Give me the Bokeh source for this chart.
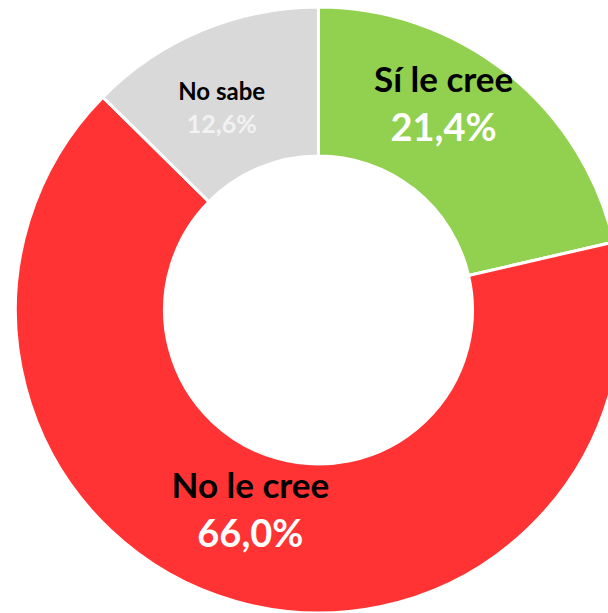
import math
from bokeh.plotting import figure
from bokeh.models import Range1d, ColumnDataSource
from bokeh.core.properties import value
from bokeh.embed import file_html
from bokeh.resources import INLINE

# data
categories = ["Sí le cree", "No le cree", "No sabe"]
shares = [21.4, 66.0, 12.6]
value_labels = ["21,4%", "66,0%", "12,6%"]
colors = ["#92D050", "#FF3333", "#D9D9D9"]

# label styling (polar placement relative to slice middle, sizes)
label_radius = [240, 212, 225]
label_angle_shift = [7.1, -2.9, 2.8]
name_sizes = ["35px", "35px", "24px"]
value_sizes = ["38px", "38px", "25px"]
value_colors = ["white", "white", "#F2F2F2"]
name_offsets = [27, 27, 16]
value_offsets = [-21, -21, -16]

W, H = 608, 613
cx, cy = 318, 309.5  # centre in figure pixels from left/top
R_OUT, R_IN = 303, 154

p = figure(width=W, height=H, output_backend="svg", toolbar_location=None,
           x_range=Range1d(-cx, W - cx), y_range=Range1d(-(H - cy), cy),
           min_border=0)
p.axis.visible = False
p.grid.visible = False
p.outline_line_color = None
p.background_fill_color = "white"

total = sum(shares)
starts, ends, mids = [], [], []
a = 90.0
for s in shares:
    sweep = s / total * 360.0
    starts.append(math.radians(a - sweep))
    ends.append(math.radians(a))
    mids.append(a - sweep / 2)
    a -= sweep

src = ColumnDataSource(dict(start=starts, end=ends, color=colors))
p.annular_wedge(x=0, y=0, inner_radius=R_IN, outer_radius=R_OUT,
                start_angle="start", end_angle="end", fill_color="color",
                line_color="white", line_width=3, source=src)

for i, cat in enumerate(categories):
    ang = math.radians(mids[i] + label_angle_shift[i])
    lx = label_radius[i] * math.cos(ang)
    ly = label_radius[i] * math.sin(ang)
    p.text(x=[lx], y=[ly + name_offsets[i]], text=[cat], text_align="center", text_baseline="middle",
           text_font=value("Lato"), text_font_style="bold", text_font_size=name_sizes[i],
           text_color="black")
    p.text(x=[lx], y=[ly + value_offsets[i]], text=[value_labels[i]], text_align="center", text_baseline="middle",
           text_font=value("Lato"), text_font_style="bold", text_font_size=value_sizes[i],
           text_color=value_colors[i])

open("out.html", "w").write(file_html(p, INLINE))
